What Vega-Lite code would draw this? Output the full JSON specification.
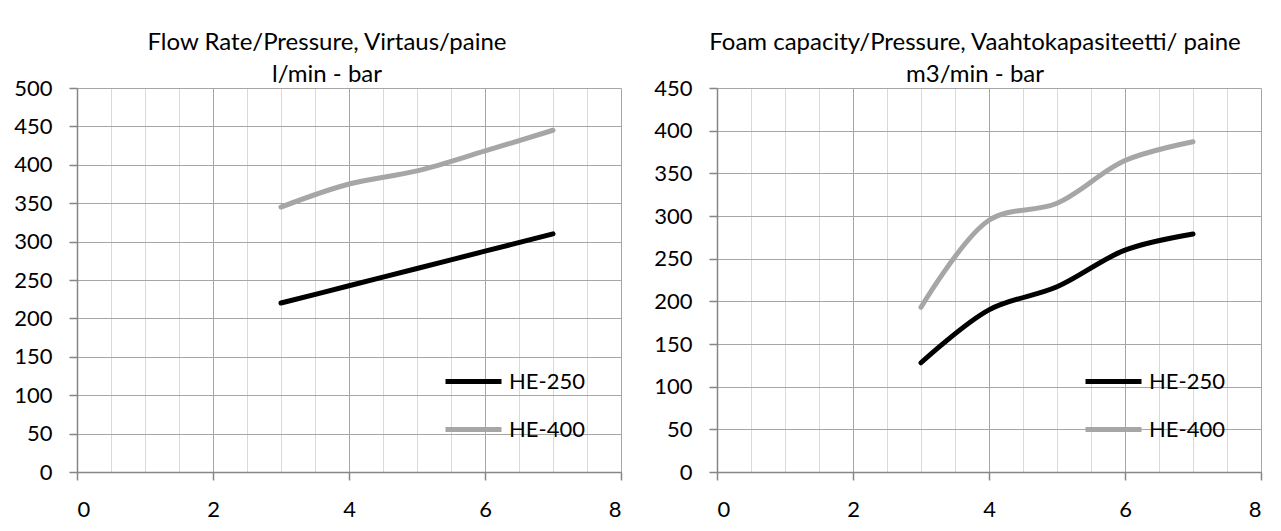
{
  "$schema": "https://vega.github.io/schema/vega-lite/v6.json",
  "background": "white",
  "padding": {"left": 13, "top": 31, "right": 5, "bottom": 2},
  "datasets": {
    "flow": [
      {"pressure": 3, "value": 220, "series": "HE-250"},
      {"pressure": 4, "value": 242.5, "series": "HE-250"},
      {"pressure": 5, "value": 265, "series": "HE-250"},
      {"pressure": 6, "value": 287.5, "series": "HE-250"},
      {"pressure": 7, "value": 310, "series": "HE-250"},
      {"pressure": 3, "value": 345, "series": "HE-400"},
      {"pressure": 4, "value": 375, "series": "HE-400"},
      {"pressure": 5, "value": 392, "series": "HE-400"},
      {"pressure": 6, "value": 418, "series": "HE-400"},
      {"pressure": 7, "value": 445, "series": "HE-400"}
    ],
    "foam": [
      {"pressure": 3, "value": 128, "series": "HE-250"},
      {"pressure": 4, "value": 190, "series": "HE-250"},
      {"pressure": 5, "value": 217, "series": "HE-250"},
      {"pressure": 6, "value": 260, "series": "HE-250"},
      {"pressure": 7, "value": 279, "series": "HE-250"},
      {"pressure": 3, "value": 193, "series": "HE-400"},
      {"pressure": 4, "value": 295, "series": "HE-400"},
      {"pressure": 5, "value": 315, "series": "HE-400"},
      {"pressure": 6, "value": 365, "series": "HE-400"},
      {"pressure": 7, "value": 387, "series": "HE-400"}
    ]
  },
  "config": {
    "view": {"stroke": null},
    "axis": {
      "labelFont": "Lato", "labelFontSize": 22, "labelColor": "#000000",
      "domainColor": "#868686", "domainWidth": 1.5,
      "tickColor": "#868686", "tickWidth": 1.5, "tickSize": 8,
      "gridColor": "#a6a6a6", "gridWidth": 1, "title": null
    },
    "axisY": {"labelPadding": 17},
    "axisX": {"labelPadding": 19},
    "title": {"font": "Lato", "fontSize": 24, "fontWeight": "normal", "color": "#000000", "lineHeight": 32, "anchor": "middle", "offset": -10},
    "legend": {"labelFont": "Lato", "labelFontSize": 22, "labelColor": "#000000"}
  },
  "spacing": 96,
  "bounds": "flush",
  "resolve": {"scale": {"color": "independent"}, "legend": {"color": "independent"}},
  "hconcat": [
    {
      "width": 544, "height": 384,
      "title": {"text": ["Flow Rate/Pressure, Virtaus/paine", "l/min - bar"], "dx": -22},
      "data": {"name": "flow"},
      "resolve": {"axis": {"x": "independent"}},
      "layer": [
        {
          "mark": {"type": "line", "opacity": 0},
          "encoding": {
            "x": {"field": "pressure", "type": "quantitative", "scale": {"domain": [0, 8]},
                  "axis": {"orient": "top", "values": [0.5, 1, 1.5, 2.5, 3, 3.5, 4.5, 5, 5.5, 6.5, 7, 7.5], "labels": false, "ticks": false, "domain": false, "grid": true, "gridColor": "#d9d9d9"}},
            "y": {"field": "value", "type": "quantitative", "scale": {"domain": [0, 500]},
                  "axis": {"values": [0, 50, 100, 150, 200, 250, 300, 350, 400, 450, 500], "grid": true}},
            "detail": {"field": "series"}
          }
        },
        {
          "mark": {"type": "line", "interpolate": "catmull-rom", "strokeWidth": 5, "strokeCap": "round"},
          "encoding": {
            "x": {"field": "pressure", "type": "quantitative", "scale": {"domain": [0, 8]},
                  "axis": {"values": [0, 2, 4, 6, 8], "grid": true}},
            "y": {"field": "value", "type": "quantitative", "scale": {"domain": [0, 500]},
                  "axis": {"values": [0, 50, 100, 150, 200, 250, 300, 350, 400, 450, 500], "grid": true}},
            "color": {"field": "series", "type": "nominal",
                      "scale": {"domain": ["HE-250", "HE-400"], "range": ["#000000", "#a6a6a6"]},
                      "legend": {"title": null, "orient": "none", "legendX": 366, "legendY": 263, "symbolType": "stroke", "symbolSize": 3136, "symbolStrokeWidth": 5, "labelOffset": 5, "rowPadding": 6, "padding": 0}}
          }
        }
      ]
    },
    {
      "width": 544, "height": 384,
      "title": {"text": ["Foam capacity/Pressure, Vaahtokapasiteetti/ paine", "m3/min - bar"], "dx": -14},
      "data": {"name": "foam"},
      "resolve": {"axis": {"x": "independent"}},
      "layer": [
        {
          "mark": {"type": "line", "opacity": 0},
          "encoding": {
            "x": {"field": "pressure", "type": "quantitative", "scale": {"domain": [0, 8]},
                  "axis": {"orient": "top", "values": [0.5, 1, 1.5, 2.5, 3, 3.5, 4.5, 5, 5.5, 6.5, 7, 7.5], "labels": false, "ticks": false, "domain": false, "grid": true, "gridColor": "#d9d9d9"}},
            "y": {"field": "value", "type": "quantitative", "scale": {"domain": [0, 450]},
                  "axis": {"values": [0, 50, 100, 150, 200, 250, 300, 350, 400, 450], "grid": true}},
            "detail": {"field": "series"}
          }
        },
        {
          "mark": {"type": "line", "interpolate": "catmull-rom", "strokeWidth": 5, "strokeCap": "round"},
          "encoding": {
            "x": {"field": "pressure", "type": "quantitative", "scale": {"domain": [0, 8]},
                  "axis": {"values": [0, 2, 4, 6, 8], "grid": true}},
            "y": {"field": "value", "type": "quantitative", "scale": {"domain": [0, 450]},
                  "axis": {"values": [0, 50, 100, 150, 200, 250, 300, 350, 400, 450], "grid": true}},
            "color": {"field": "series", "type": "nominal",
                      "scale": {"domain": ["HE-250", "HE-400"], "range": ["#000000", "#a6a6a6"]},
                      "legend": {"title": null, "orient": "none", "legendX": 366, "legendY": 263, "symbolType": "stroke", "symbolSize": 3136, "symbolStrokeWidth": 5, "labelOffset": 5, "rowPadding": 6, "padding": 0}}
          }
        }
      ]
    }
  ]
}
